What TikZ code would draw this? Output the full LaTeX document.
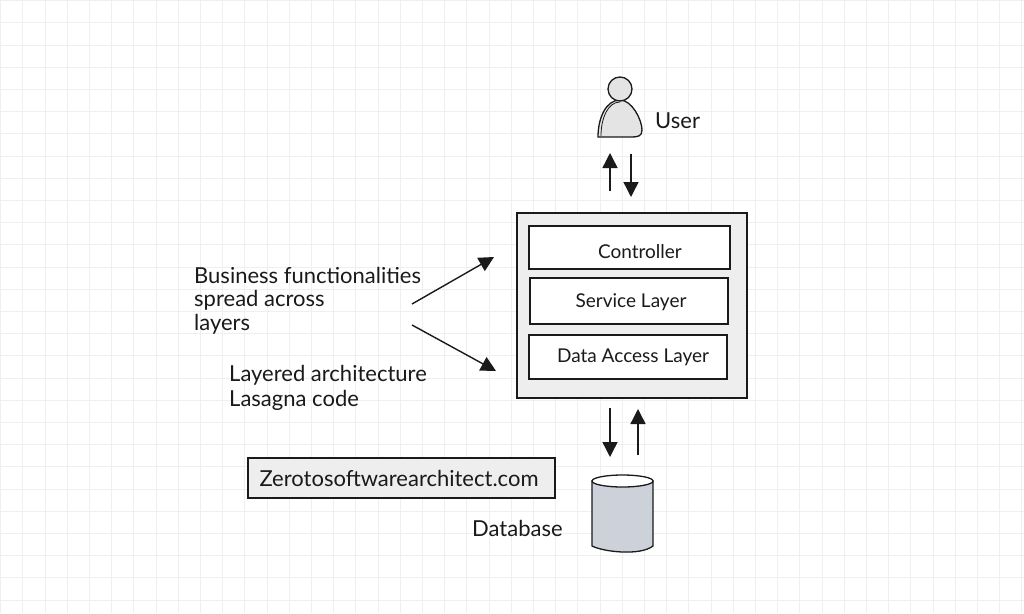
\documentclass[tikz,border=0pt]{standalone}
\usepackage{fontspec}
\setmainfont{Lato}
\usetikzlibrary{arrows.meta,shapes.geometric}
\definecolor{gridline}{HTML}{EFEFEF}
\definecolor{panel}{HTML}{EEEEEE}
\definecolor{userfill}{HTML}{E4E4E4}
\definecolor{dbbody}{HTML}{CDD1D9}
\definecolor{ink}{HTML}{1A1A1A}
\tikzset{
    layerbox/.style={draw=ink, fill=white, line width=1.3pt, inner sep=0pt},
    caption/.style={font=\fontsize{22}{22}\selectfont, text=ink, inner sep=0pt},
    layertext/.style={font=\fontsize{19}{19}\selectfont, text=ink, inner sep=0pt},
    flow/.style={draw=ink, line width=1.4pt, -{Triangle[length=15pt,width=15pt]}}
}
\begin{document}
\begin{tikzpicture}[x=1pt, y=-1pt]
    \useasboundingbox (0,0) rectangle (1024,613);
    \fill[white] (0,0) rectangle (1024,613);

    % Grid paper
    \foreach \i in {0,...,46} {
        \draw[gridline, line width=0.8pt] ({0.5+22.2*\i}, 0) -- ({0.5+22.2*\i}, 613);
    }
    \foreach \i in {0,...,27} {
        \draw[gridline, line width=0.8pt] (0, {0.5+22.2*\i}) -- (1024, {0.5+22.2*\i});
    }

    % User
    \draw[ink, line width=1.3pt, fill=userfill] (598,137) .. controls (598,118) and (606,100) .. (620,100)
        .. controls (632,100) and (642,120) .. (642,130) .. controls (642,136) and (638,137) .. (632,137) -- cycle;
    \draw[ink, line width=0.8pt] (601,136) .. controls (601,118) and (608,102) .. (620,102);
    \node[circle, draw=ink, fill=userfill, line width=1.3pt, minimum size=24pt, inner sep=0pt] (head) at (620,89) {};
    \node[caption, anchor=west] (user) at (655,121) {User};

    % Application box
    \node[draw=ink, fill=panel, line width=1.5pt, minimum width=230pt, minimum height=185pt, inner sep=0pt] (app) at (632,305.5) {};
    \node[layerbox, minimum width=201pt, minimum height=43pt] (controllerbox) at (629.5,247.5) {};
    \node[layerbox, minimum width=198pt, minimum height=46pt] (servicebox) at (629,301) {};
    \node[layerbox, minimum width=198pt, minimum height=44pt] (databox) at (628,357) {};
    \node[layertext] (controller) at (640,252) {Controller};
    \node[layertext] (service) at (631,302) {Service Layer};
    \node[layertext] (dataaccess) at (633,357) {Data Access Layer};

    % Left notes
    \node[caption, anchor=west] (business) at (194,275) {Business functionalities};
    \node[caption, anchor=west] (spread) at (194,300) {spread across};
    \node[caption, anchor=west] (layers) at (194,324) {layers};
    \node[caption, anchor=west] (layered) at (229,375) {Layered architecture};
    \node[caption, anchor=west] (lasagna) at (229,400) {Lasagna code};

    % Site name
    \node[draw=ink, fill=panel, line width=1.4pt, minimum width=307pt, minimum height=40pt, inner sep=0pt] (sitebox) at (401.5,478) {};
    \node[caption] (site) at (399,478) {Zerotosoftwarearchitect.com};

    % Database
    \draw[ink, line width=1.3pt, fill=dbbody] (592,481) -- (592,546)
        .. controls (604,552) and (640,556) .. (653,546) -- (653,481) -- cycle;
    \node[ellipse, draw=ink, fill=white, line width=1.3pt, minimum width=61pt, minimum height=12pt, inner sep=0pt] (dbtop) at (622.5,481) {};
    \node[caption, anchor=west] (database) at (472,528) {Database};

    % Arrow ends
    \coordinate (userup) at (610,153);
    \coordinate (userupfrom) at (610,191);
    \coordinate (userdown) at (631,197);
    \coordinate (userdownfrom) at (631,154);
    \coordinate (noteone) at (412,304);
    \coordinate (noteonehead) at (494,257);
    \coordinate (notetwo) at (412,325);
    \coordinate (notetwohead) at (496,371);
    \coordinate (dbdownfrom) at (610,408);
    \coordinate (dbdown) at (610,457);
    \coordinate (dbupfrom) at (638,455);
    \coordinate (dbup) at (638,409);

    % Arrows
    \draw[flow] (userupfrom) -- (userup);
    \draw[flow] (userdownfrom) -- (userdown);
    \draw[flow] (noteone) -- (noteonehead);
    \draw[flow] (notetwo) -- (notetwohead);
    \draw[flow] (dbdownfrom) -- (dbdown);
    \draw[flow] (dbupfrom) -- (dbup);
\end{tikzpicture}
\end{document}
